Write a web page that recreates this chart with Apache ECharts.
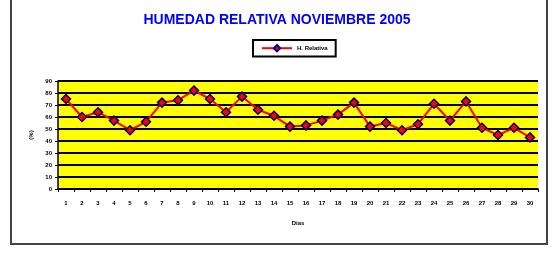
<!DOCTYPE html>
<html>
<head>
<meta charset="UTF-8">
<title>Humedad relativa</title>
<script src="https://cdn.jsdelivr.net/npm/echarts@6/dist/echarts.min.js"></script>
<style>
  html, body { margin: 0; padding: 0; background: #fff; }
  #frame { position: absolute; left: 10px; top: -4px; width: 534px; height: 245px; border: 2px solid #444; }
  #main { position: absolute; left: 0; top: 0; width: 554px; height: 255px; }
</style>
</head>
<body>
<div id="frame"></div>
<div id="main"></div>
<script>
// dias de noviembre
var dias = [];
for (var d = 1; d <= 30; d++) dias.push(String(d));

// humedad relativa (%)
var humedad = [75, 60, 64, 57, 49, 56, 72, 74, 82, 75, 64, 77, 66, 61, 52, 53, 57, 62, 72, 52,
               55, 49, 54, 71, 57, 73, 51, 45, 51, 43];

var yTicks = [0, 10, 20, 30, 40, 50, 60, 70, 80, 90];

var myChart = echarts.init(document.getElementById('main'));

myChart.setOption({
    animation: false,
    title: {
        text: 'HUMEDAD RELATIVA NOVIEMBRE 2005',
        left: 'center',
        top: 8,
        textStyle: { color: '#0000ff', fontSize: 14, fontWeight: 'bold', fontFamily: 'Liberation Sans' }
    },
    legend: {
        top: 40,
        left: 253,
        data: ['H. Relativa'],
        backgroundColor: '#fff',
        borderColor: '#000',
        borderWidth: 2,
        borderRadius: 0,
        padding: [4, 8],
        itemWidth: 30,
        itemHeight: 8,
        itemGap: 4,
        textStyle: { fontSize: 6, fontWeight: 'bold', color: '#000' }
    },
    grid: {
        left: 58, right: 16, top: 81, bottom: 66,
        show: true,
        backgroundColor: '#ffff00',
        borderWidth: 0
    },
    xAxis: {
        type: 'category',
        data: dias,
        boundaryGap: true,
        name: 'Días',
        nameLocation: 'middle',
        nameGap: 31,
        nameTextStyle: { fontSize: 6, fontWeight: 'bold', color: '#000' },
        axisLine: { lineStyle: { color: '#000', width: 1.5 } },
        axisTick: { show: true, length: 3, lineStyle: { color: '#000' } },
        axisLabel: { fontSize: 6, fontWeight: 'bold', color: '#000', margin: 11, interval: 0 }
    },
    yAxis: {
        type: 'value',
        min: yTicks[0],
        max: yTicks[yTicks.length - 1],
        interval: 10,
        name: '(%)',
        nameLocation: 'middle',
        nameGap: 22,
        nameRotate: 90,
        nameTextStyle: { fontSize: 6, fontWeight: 'bold', color: '#000' },
        axisLine: { show: true, lineStyle: { color: '#000', width: 1.5 } },
        axisTick: { show: true, length: 3, lineStyle: { color: '#000' } },
        axisLabel: { fontSize: 6, fontWeight: 'bold', color: '#000', margin: 6 },
        splitLine: { lineStyle: { color: '#000', width: 1.8 } }
    },
    series: [{
        name: 'H. Relativa',
        type: 'line',
        data: humedad,
        symbol: 'diamond',
        symbolSize: 9,
        lineStyle: { color: '#ff0000', width: 2 },
        itemStyle: { color: '#ff0000', borderColor: '#000080', borderWidth: 1.5 }
    }]
});
</script>
</body>
</html>
